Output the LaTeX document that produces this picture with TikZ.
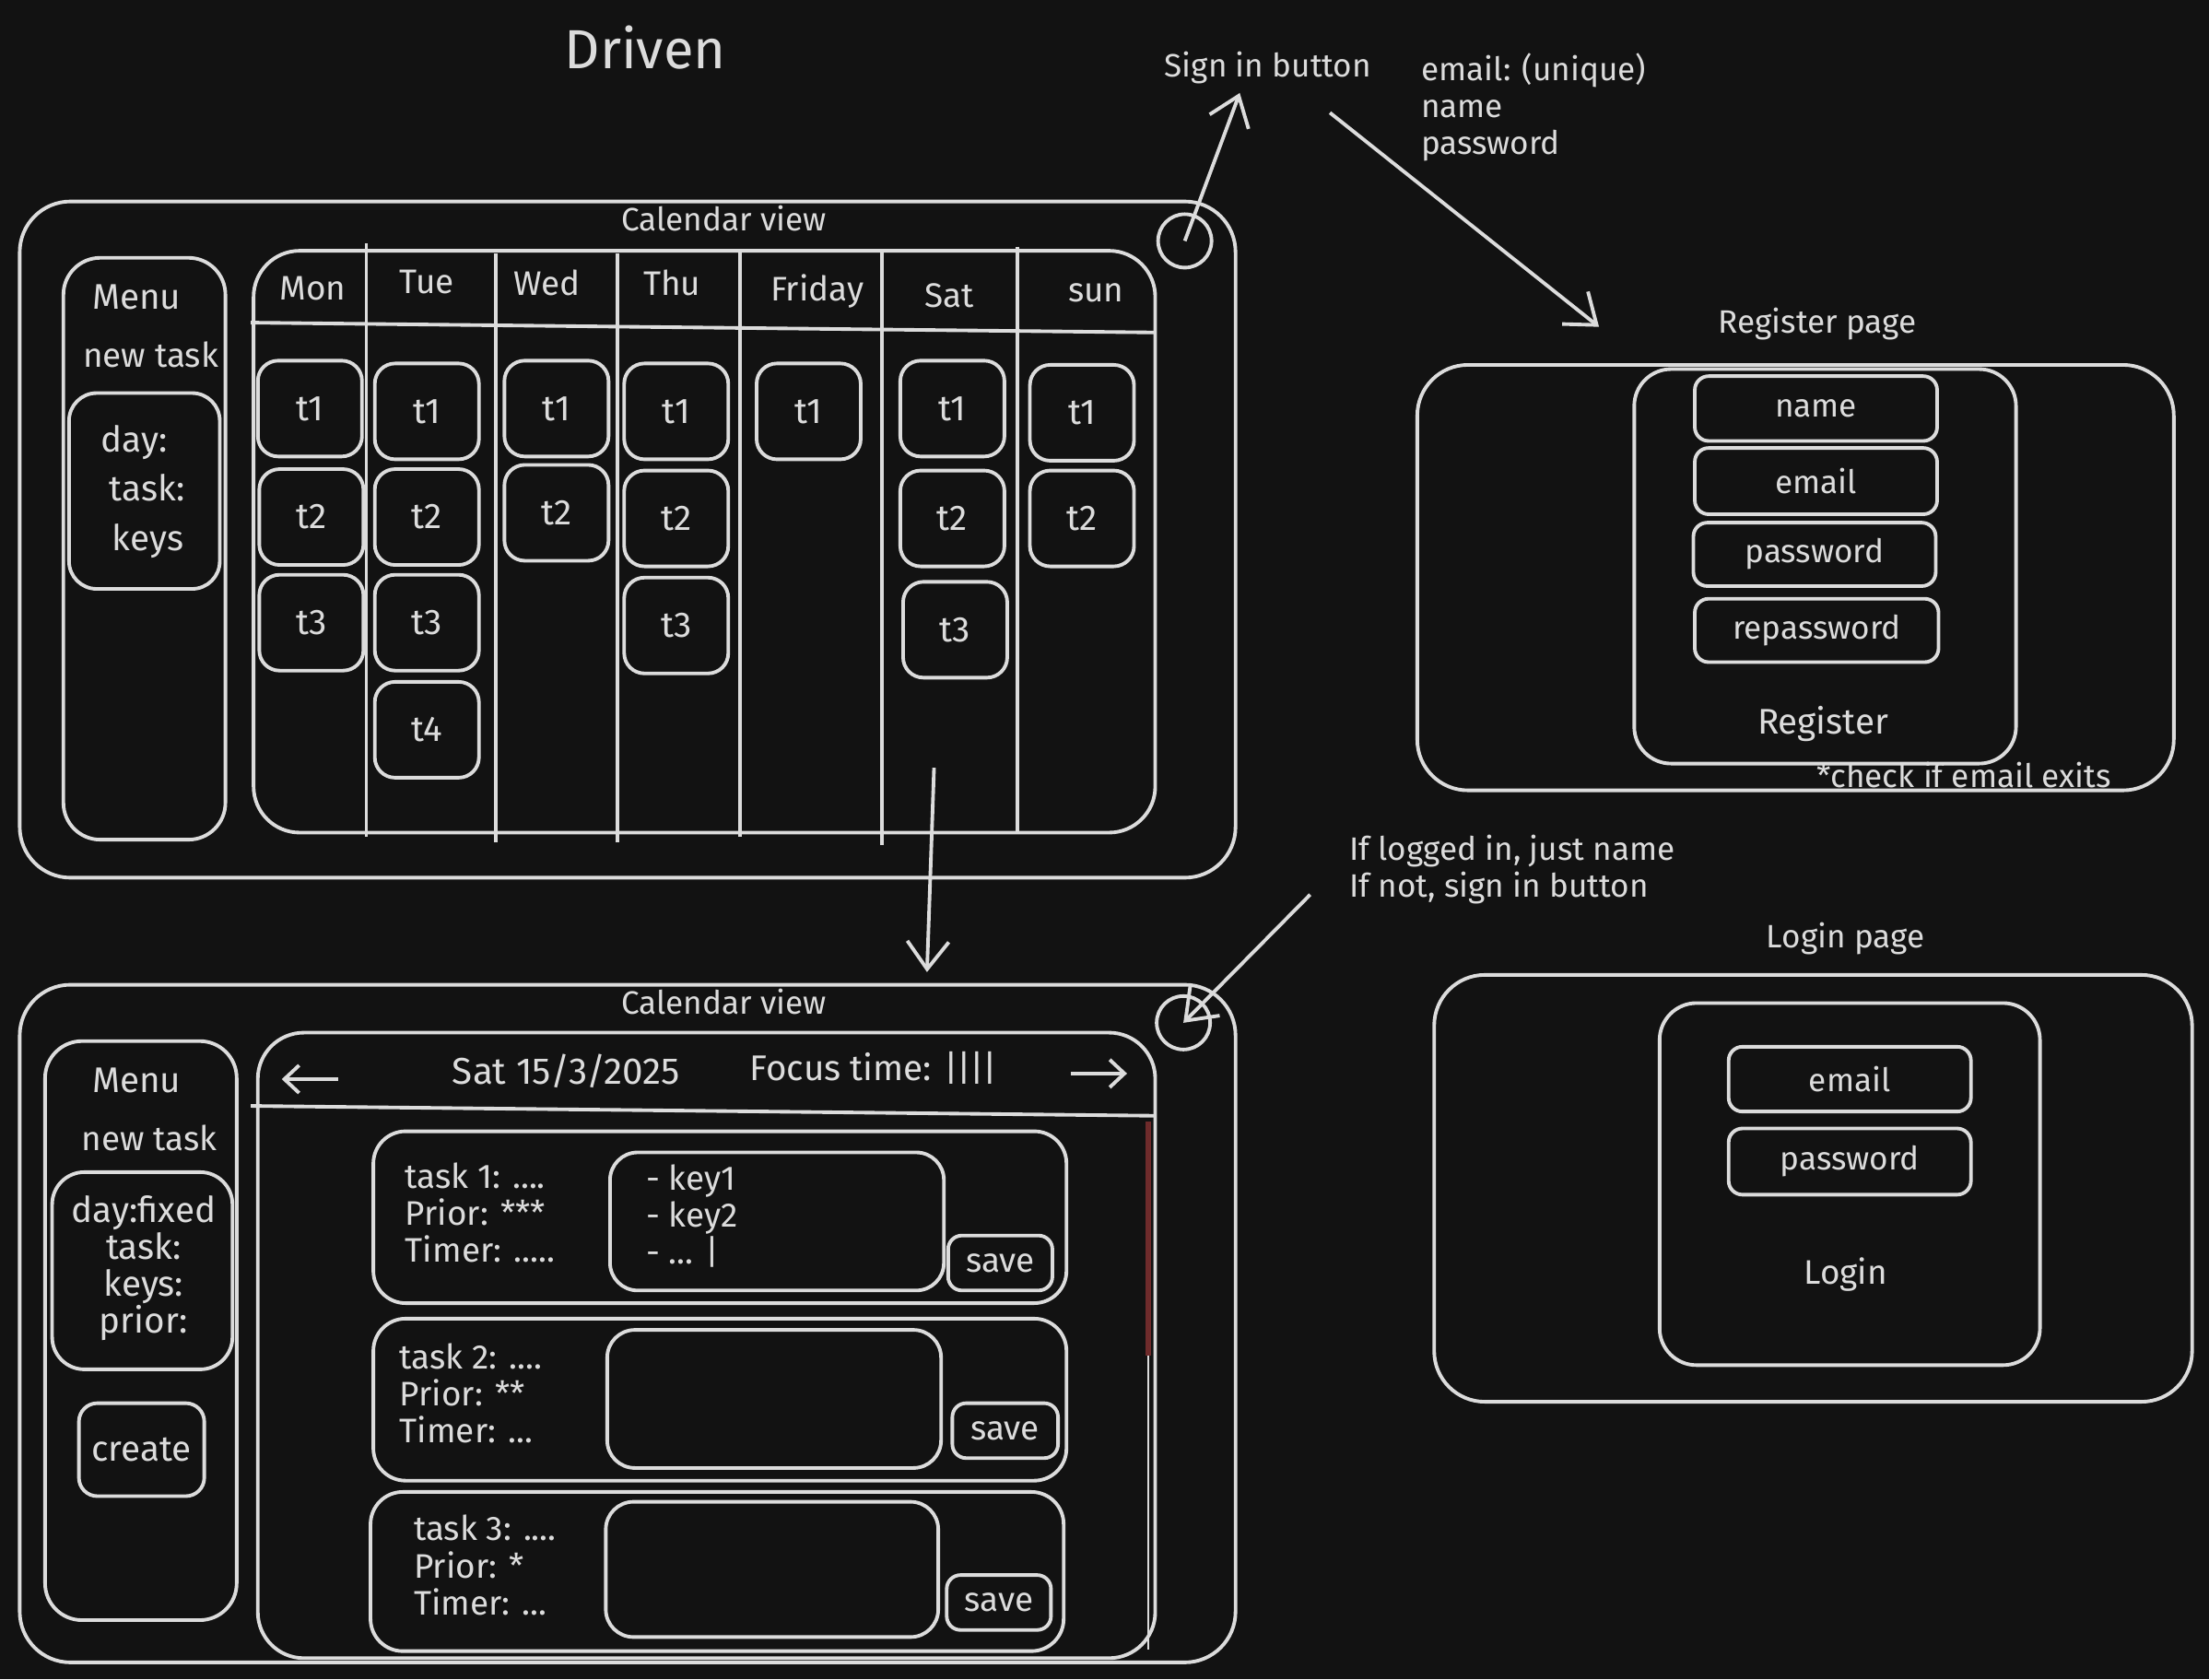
\documentclass[tikz,border=0pt]{standalone}
\usepackage{fontspec}
\setmainfont{Fira Sans}
\usetikzlibrary{positioning,fit,arrows.meta,calc}
\definecolor{bg}{HTML}{121212}
\definecolor{ink}{HTML}{DCDCDC}
\definecolor{scroll}{HTML}{6E2B2B}
\tikzset{
frame/.style={
  draw=ink,
  line width=1.1pt,
  rounded corners=0.55cm,
  inner sep=0pt
  },
panel/.style={draw=ink, line width=1.1pt, rounded corners=0.4cm, inner sep=0pt},
field/.style={draw=ink, line width=1.1pt, rounded corners=0.15cm, inner sep=0pt},
taskbox/.style={
  draw=ink,
  line width=1.1pt,
  rounded corners=0.22cm,
  minimum width=1.13cm,
  minimum height=1.04cm,
  text=ink,
  font=\fontsize{11}{13}\selectfont
  },
txt/.style={text=ink, inner sep=1pt, font=\fontsize{10}{12}\selectfont},
big/.style={font=\fontsize{11}{13.5}\selectfont},
mid/.style={font=\fontsize{10.5}{12}\selectfont},
sep/.style={draw=ink, line width=1.1pt},
link/.style={draw=ink, line width=1.1pt, -{Straight Barb[length=3mm,width=4.5mm]}}
}

\begin{document}
\begin{tikzpicture}[x=0.015287cm, y=-0.015287cm]
\fill[bg] (0,0) rectangle (1568,1192);
\useasboundingbox (0,0) rectangle (1568,1192);

% notes
\node[txt, font=\fontsize{17}{20}\selectfont] (title) at (458,34) {Driven};
\node[txt] (signin) at (900,48) {Sign in button};
\node[txt, anchor=west, align=left, font=\fontsize{10}{11.4}\selectfont] (userfields) at (1006,76)
  {email: (unique)\\name\\password};
\node[txt, anchor=west, align=left, font=\fontsize{10}{11.4}\selectfont] (loginnote) at (955,617)
  {If logged in, just name\\If not, sign in button};

% week calendar
\node[frame, fit={(14,143) (877,623)}] (topcal) {};
\node[txt] (topcaltitle) at (514,155) {Calendar view};
\node[draw=ink, line width=1.1pt, circle, minimum size=0.58cm] (topbtn) at (841,171) {};
\node[panel, fit={(45,183) (160,596)}] (topmenu) {};
\node[txt, big] (topmenutitle) at (97,211) {Menu};
\node[txt, mid] (topnew) at (107,252) {new task};
\node[panel, rounded corners=0.3cm, fit={(49,279) (156,418)}] (topform) {};
\node[txt, big, anchor=west] (topday) at (69,314) {day:};
\node[txt, big, anchor=west] (toptask) at (75,346) {task:};
\node[txt, big, anchor=west] (topkeys) at (77,384) {keys};
\node[frame, rounded corners=0.5cm, fit={(180,178) (820,591)}] (week) {};
\draw[sep] (178,229) -- (820,236);
\foreach \sx/\ya/\yb in {260/173/594, 352/180/598, 438/180/598, 525/178/594, 626/178/600, 722/175/592}
  \draw[sep] (\sx,\ya) -- (\sx,\yb);
\foreach \dx/\dy/\d in {222/205/Mon, 303/200/Tue, 388/201/Wed, 477/201/Thu, 580/207/Friday, 674/210/Sat, 778/208/sun}
  \node[txt, mid] (day\d) at (\dx,\dy) {\d};
\foreach \cx/\cy/\t/\nm in {220/290/t1/mon1, 221/367/t2/mon2, 221/442/t3/mon3,
    303/292/t1/tue1, 303/367/t2/tue2, 303/442/t3/tue3, 303/518/t4/tue4,
    395/290/t1/wed1, 395/364/t2/wed2,
    480/292/t1/thu1, 480/368/t2/thu2, 480/444/t3/thu3,
    574/292/t1/fri1,
    676/290/t1/sat1, 676/368/t2/sat2, 678/447/t3/sat3,
    768/293/t1/sun1, 768/368/t2/sun2}
  \node[taskbox] (\nm) at (\cx,\cy) {\t};

% day calendar
\node[frame, fit={(14,699) (877,1180)}] (botcal) {};
\node[txt] (botcaltitle) at (514,711) {Calendar view};
\node[draw=ink, line width=1.1pt, circle, minimum size=0.58cm] (botbtn) at (840,726) {};
\node[panel, fit={(32,739) (168,1150)}] (botmenu) {};
\node[txt, big] (botmenutitle) at (97,767) {Menu};
\node[txt, mid] (botnew) at (106,808) {new task};
\node[panel, rounded corners=0.35cm, fit={(37,832) (165,972)}] (botform) {};
\node[txt, align=center, font=\fontsize{11}{11.4}\selectfont] (botfields) at (102,900)
  {day:fixed\\task:\\keys:\\prior:};
\node[field, rounded corners=0.2cm, fit={(56,996) (145,1062)},
  label={[txt, big]center:create}] (create) {};
\node[frame, rounded corners=0.5cm, fit={(183,733) (820,1177)}] (daypane) {};
\draw[sep] (178,785) -- (820,792);
\coordinate (prevtail) at (240,766);
\coordinate (prevtip) at (200,766);
\coordinate (nexttail) at (760,762);
\coordinate (nexttip) at (800,762);
\draw[link, -{Straight Barb[length=1.6mm,width=3mm]}] (prevtail) -- (prevtip);
\draw[link, -{Straight Barb[length=1.6mm,width=3mm]}] (nexttail) -- (nexttip);
\node[txt, font=\fontsize{11.5}{13}\selectfont] (date) at (402,760) {Sat 15/3/2025};
\node[txt, font=\fontsize{11}{13}\selectfont] (focus) at (620,758) {Focus time: |\kern-0.5pt|\kern-0.5pt|\kern-0.5pt|};
\draw[scroll, line width=1.6pt] (815,796) -- (815,962);
\draw[ink, line width=0.8pt] (815,962) -- (815,1171);

% task cards
\node[panel, rounded corners=0.35cm, fit={(265,803) (757,925)}] (card1) {};
\node[txt, anchor=west, align=left, font=\fontsize{10.5}{11.4}\selectfont] (info1) at (285,861)
  {task 1: ....\\Prior: ***\\Timer: .....};
\node[panel, rounded corners=0.3cm, fit={(433,818) (670,916)}] (keys1) {};
\node[txt, anchor=west, align=left, font=\fontsize{10.5}{11.4}\selectfont] (keylist) at (456,863)
  {- key1\\- key2\\- ... |};
\node[field, fit={(673,877) (747,916)}, label={[txt, mid]center:save}] (save1) {};

\node[panel, rounded corners=0.35cm, fit={(265,936) (757,1051)}] (card2) {};
\node[txt, anchor=west, align=left, font=\fontsize{10.5}{11.4}\selectfont] (info2) at (281,989)
  {task 2: ....\\Prior: **\\Timer: ...};
\node[panel, rounded corners=0.3cm, fit={(431,944) (668,1042)}] (keys2) {};
\node[field, fit={(676,996) (751,1035)}, label={[txt, mid]center:save}] (save2) {};

\node[panel, rounded corners=0.35cm, fit={(263,1059) (755,1172)}] (card3) {};
\node[txt, anchor=west, align=left, font=\fontsize{10.5}{11.4}\selectfont] (info3) at (291,1111)
  {task 3: ....\\Prior: *\\Timer: ...};
\node[panel, rounded corners=0.3cm, fit={(430,1066) (666,1162)}] (keys3) {};
\node[field, fit={(672,1118) (746,1157)}, label={[txt, mid]center:save}] (save3) {};

% register page
\node[txt] (regtitle) at (1290,230) {Register page};
\node[frame, fit={(1006,259) (1543,561)}] (register) {};
\node[panel, fit={(1160,262) (1431,542)}] (regform) {};
\node[field, fit={(1203,267) (1375,313)}, label={[txt]center:name}] (regname) {};
\node[field, fit={(1203,318) (1375,365)}, label={[txt]center:email}] (regemail) {};
\node[field, fit={(1202,371) (1374,416)}, label={[txt]center:password}] (regpass) {};
\node[field, fit={(1203,425) (1376,470)}, label={[txt]center:repassword}] (regrepass) {};
\node[txt, big] (regbtn) at (1294,514) {Register};
\node[txt] (regcheck) at (1394,550) {*check if email exits};

% login page
\node[txt] (logintitle) at (1310,666) {Login page};
\node[frame, fit={(1018,692) (1556,995)}] (login) {};
\node[panel, fit={(1178,712) (1448,969)}] (loginform) {};
\node[field, fit={(1227,743) (1399,789)}, label={[txt]center:email}] (loginemail) {};
\node[field, fit={(1227,801) (1399,848)}, label={[txt]center:password}] (loginpass) {};
\node[txt, mid] (loginbtn) at (1310,905) {Login};

% arrows
\coordinate (signtip) at (880,66);
\coordinate (regtail) at (944,80);
\coordinate (regtip) at (1135,232);
\coordinate (daytail) at (663,545);
\coordinate (daytip) at (658,690);
\coordinate (notetail) at (930,635);
\draw[link] (topbtn.center) -- (signtip);
\draw[link] (regtail) -- (regtip);
\draw[link] (daytail) -- (daytip);
\draw[link] (notetail) -- (botbtn.center);
\end{tikzpicture}
\end{document}
